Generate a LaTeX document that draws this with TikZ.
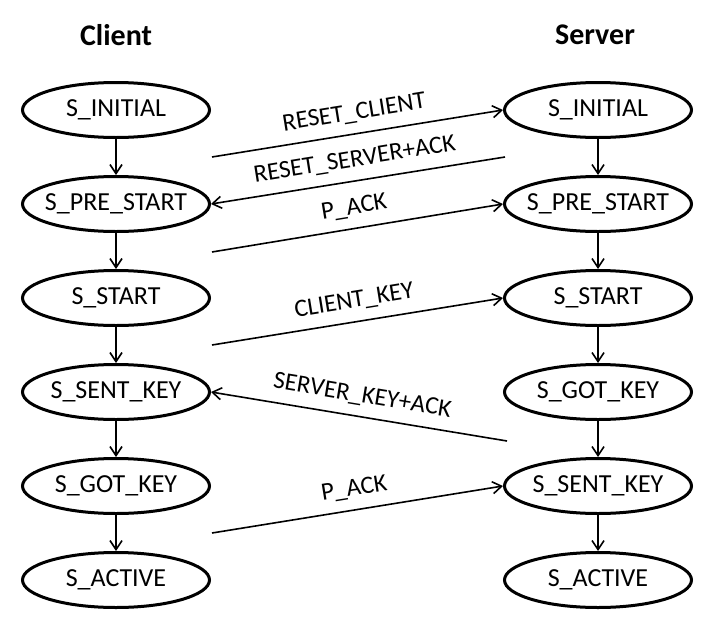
\documentclass[tikz,border=0pt]{standalone}
\usepackage{fontspec}
\setmainfont{Carlito}
\usetikzlibrary{shapes.geometric,arrows.meta}
\tikzset{
  state/.style={ellipse, draw, line width=3pt, minimum width=187pt, minimum height=55pt,
    inner xsep=-20pt, inner ysep=0pt, font=\fontsize{26}{30}\selectfont},
  title/.style={font=\fontsize{30}{36}\selectfont\bfseries},
  msg/.style={->, line width=1.6pt},
  lbl/.style={midway, sloped, above=9pt, inner sep=1pt, font=\fontsize{25}{30}\selectfont},
  >={Straight Barb[length=9pt,width=12pt]}
}
\begin{document}
\begin{tikzpicture}[x=1pt,y=-1pt]
    \useasboundingbox (0,0) rectangle (720,640);
    \node[title] (client) at (116,35) {Client};
    \node[title] (server) at (595,35) {Server};

    % 客户端状态
    \node[state] (c1) at (116,110) {S\_INITIAL};
    \node[state] (c2) at (116,204) {S\_PRE\_START};
    \node[state] (c3) at (116,298) {S\_START};
    \node[state] (c4) at (116,392) {S\_SENT\_KEY};
    \node[state] (c5) at (116,486) {S\_GOT\_KEY};
    \node[state] (c6) at (116,580) {S\_ACTIVE};

    % 服务器状态
    \node[state] (s1) at (598,110) {S\_INITIAL};
    \node[state] (s2) at (598,204) {S\_PRE\_START};
    \node[state] (s3) at (598,298) {S\_START};
    \node[state] (s4) at (598,392) {S\_GOT\_KEY};
    \node[state] (s5) at (598,486) {S\_SENT\_KEY};
    \node[state] (s6) at (598,580) {S\_ACTIVE};

    \draw[msg] (c1) -- (c2);
    \draw[msg] (c2) -- (c3);
    \draw[msg] (c3) -- (c4);
    \draw[msg] (c4) -- (c5);
    \draw[msg] (c5) -- (c6);
    \draw[msg] (s1) -- (s2);
    \draw[msg] (s2) -- (s3);
    \draw[msg] (s3) -- (s4);
    \draw[msg] (s4) -- (s5);
    \draw[msg] (s5) -- (s6);

    % 消息
    \coordinate (m1) at (212,157);
    \coordinate (m2) at (505,157);
    \coordinate (m3) at (212,252);
    \coordinate (m4) at (212,345);
    \coordinate (m5) at (507,441);
    \coordinate (m6) at (212,533);
    \draw[msg] (m1) -- (s1.west) node[lbl] {RESET\_CLIENT};
    \draw[msg] (m2) -- (c2.east) node[lbl] {RESET\_SERVER+ACK};
    \draw[msg] (m3) -- (s2.west) node[lbl] {P\_ACK};
    \draw[msg] (m4) -- (s3.west) node[lbl] {CLIENT\_KEY};
    \draw[msg] (m5) -- (c4.east) node[lbl] {SERVER\_KEY+ACK};
    \draw[msg] (m6) -- (s5.west) node[lbl] {P\_ACK};
\end{tikzpicture}
\end{document}
